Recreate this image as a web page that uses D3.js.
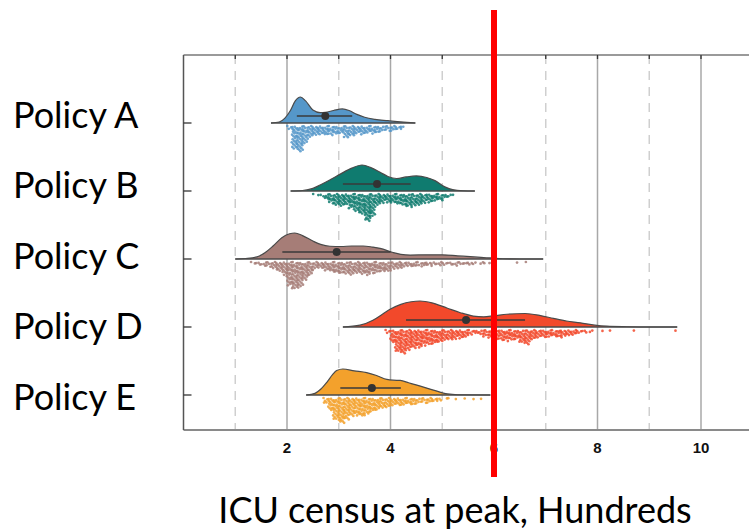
<!DOCTYPE html>
<html><head><meta charset="utf-8">
<script src="https://cdn.jsdelivr.net/npm/d3@7"></script>
<style>body{margin:0;background:#fff}</style>
</head><body><svg id="c" width="749" height="532"></svg>
<script>
// ---------- data ----------
const policies = ["Policy A", "Policy B", "Policy C", "Policy D", "Policy E"];
const colors = ["#5597c9", "#0f7b6f", "#a67d77", "#f2492b", "#f3a12c"];

// density curves: [value (hundreds), relative density]
const densA = [[1.69,0],[1.85,0.04],[1.96,0.19],[2.06,0.46],[2.16,0.85],[2.26,1.0],[2.36,0.85],[2.5,0.5],[2.64,0.4],[2.74,0.41],[2.9,0.48],[3.07,0.54],[3.2,0.48],[3.35,0.33],[3.5,0.22],[3.7,0.14],[3.95,0.09],[4.2,0.04],[4.48,0]];
const densB = [[2.07,0],[2.3,0.02],[2.5,0.1],[2.64,0.23],[2.85,0.45],[3.03,0.65],[3.25,0.88],[3.45,1.0],[3.62,0.9],[3.8,0.72],[3.95,0.56],[4.12,0.48],[4.3,0.54],[4.5,0.58],[4.7,0.52],[4.86,0.4],[5.05,0.16],[5.2,0.05],[5.4,0.01],[5.63,0]];
const densC = [[1.0,0],[1.2,0.02],[1.42,0.08],[1.58,0.25],[1.73,0.5],[1.9,0.82],[2.05,0.97],[2.15,1.0],[2.3,0.9],[2.5,0.69],[2.65,0.56],[2.83,0.49],[3.05,0.48],[3.25,0.5],[3.47,0.5],[3.65,0.46],[3.8,0.41],[4.05,0.25],[4.2,0.18],[4.38,0.15],[4.7,0.16],[5.0,0.16],[5.3,0.12],[5.54,0.09],[5.75,0.06],[5.93,0.04],[6.17,0.01],[6.5,0],[6.95,0]];
const densD = [[3.08,0],[3.41,0.07],[3.66,0.26],[3.85,0.5],[4.0,0.69],[4.2,0.87],[4.4,0.97],[4.57,1.0],[4.8,0.93],[5.09,0.73],[5.35,0.55],[5.6,0.42],[5.8,0.39],[6.0,0.43],[6.25,0.49],[6.6,0.52],[6.9,0.44],[7.15,0.33],[7.4,0.23],[7.67,0.16],[7.95,0.07],[8.18,0.03],[8.57,0.01],[9.0,0],[9.54,0]];
const densE = [[2.37,0],[2.54,0.06],[2.65,0.22],[2.77,0.49],[2.88,0.78],[2.96,0.94],[3.08,1.0],[3.3,0.93],[3.54,0.86],[3.73,0.75],[3.93,0.6],[4.05,0.57],[4.19,0.56],[4.35,0.47],[4.51,0.38],[4.83,0.19],[5.1,0.04],[5.3,0.01],[5.93,0]];

// simulation runs: counts per 0.1-wide bin, starting at dotStart
const dotStart = [2.0, 2.5, 1.3, 3.9, 2.7];
const dotCountsA = [4,26,28,20,12,10,9,10,10,9,8,13,11,9,9,8,8,7,6,5,5,4,2];
const dotCountsB = [1,2,6,10,12,13,12,16,20,22,30,25,12,10,10,9,11,13,14,13,12,10,9,8,7,5,3];
const dotCountsC = [2,3,4,5,8,10,14,26,30,28,20,14,8,7,9,11,12,12,13,14,12,13,14,12,12,11,10,8,7,6,5,5,4,5,4,3,4,3,3,4,3,2,3,2,2,1,2,0,0,0,0,1,0,1];
const dotCountsD = [3,14,24,26,22,20,19,17,16,15,13,12,11,10,9,8,5,4,5,7,9,10,11,12,11,10,14,16,10,9,8,8,7,8,7,6,5,4,3,2,0,0,1,1,0,0,0,1,0,0,0,0,0,0,0,1];
const dotCountsE = [6,14,24,28,24,20,19,20,18,15,13,11,10,9,8,8,7,7,6,5,5,4,3,1,1,1,0,1,0,1,1];

// point estimate and interval
const pointEst   = [2.74, 3.74, 2.96, 5.46, 3.64];
const intervalLo = [2.19, 3.08, 1.91, 4.30, 3.03];
const intervalHi = [3.26, 4.39, 4.00, 6.60, 4.20];

const majorTicks = [2, 4, 6, 8, 10];
const minorTicks = [1, 3, 5, 7, 9];
const threshold = 6;
const xTitle = "ICU census at peak, Hundreds";

// ---------- drawing ----------
const dens = [densA, densB, densC, densD, densE];
const counts = [dotCountsA, dotCountsB, dotCountsC, dotCountsD, dotCountsE];

const svg = d3.select("#c");
const plotTop = 55, plotBottom = 430, plotLeft = 183.5;
const x = d3.scaleLinear().domain([0, 11]).range([plotLeft, plotLeft + 51.75 * 11]);
const y = d3.scalePoint().domain(policies).range([123, 395]);
const yLab = d3.scalePoint().domain(policies).range([115, 397]);
const h = d3.scaleLinear().domain([0, 1]).range([0, 26]);

// gridlines
svg.append("g").selectAll("line").data(minorTicks).join("line")
  .attr("x1", d => x(d)).attr("x2", d => x(d)).attr("y1", plotTop).attr("y2", plotBottom)
  .attr("stroke", "#cfcfcf").attr("stroke-width", 1.5).attr("stroke-dasharray", "9,7");
svg.append("g").selectAll("line").data(majorTicks).join("line")
  .attr("x1", d => x(d)).attr("x2", d => x(d)).attr("y1", plotTop).attr("y2", plotBottom)
  .attr("stroke", "#a8a8a8").attr("stroke-width", 1.5);

// frame
svg.append("line").attr("x1", plotLeft).attr("x2", 749).attr("y1", plotTop).attr("y2", plotTop)
  .attr("stroke", "#9a9a9a").attr("stroke-width", 2);
svg.append("line").attr("x1", plotLeft).attr("x2", 749).attr("y1", plotBottom).attr("y2", plotBottom)
  .attr("stroke", "#8a8a8a").attr("stroke-width", 2);
svg.append("line").attr("x1", plotLeft).attr("x2", plotLeft).attr("y1", plotTop).attr("y2", plotBottom)
  .attr("stroke", "#555").attr("stroke-width", 1.5);
// top ticks
svg.append("g").selectAll("line").data(d3.range(1, 11)).join("line")
  .attr("x1", d => x(d)).attr("x2", d => x(d)).attr("y1", plotTop).attr("y2", plotTop + 4)
  .attr("stroke", "#333").attr("stroke-width", 1.3);
// left ticks
svg.append("g").selectAll("line").data(policies).join("line")
  .attr("x1", plotLeft).attr("x2", plotLeft + 8).attr("y1", d => y(d)).attr("y2", d => y(d))
  .attr("stroke", "#333").attr("stroke-width", 1.3);

// x tick labels
svg.append("g").selectAll("text").data(majorTicks).join("text")
  .attr("x", d => x(d)).attr("y", 452.5).attr("text-anchor", "middle")
  .attr("font-family", "Liberation Sans, Arial, sans-serif").attr("font-weight", "bold")
  .attr("font-size", 15).attr("fill", "#111").text(d => d);

const frac = v => v - Math.floor(v);
const area = d3.area().curve(d3.curveMonotoneX);

policies.forEach((p, k) => {
  const base = y(p);
  const g = svg.append("g");
  // rain dots
  const pts = [];
  counts[k].forEach((n, b) => {
    for (let i = 0; i < n; i++) {
      const xv = dotStart[k] + b * 0.1 + (frac(0.13 + i * 0.618034 + b * 0.379) * 1.2 - 0.1) * 0.1;
      const dy = 3 + (i + frac(b * 0.7548 + i * 0.4142) * 1.4) * 0.9;
      pts.push([xv, dy]);
    }
  });
  g.selectAll("circle.dot").data(pts).join("circle").attr("class", "dot")
    .attr("cx", d => x(d[0])).attr("cy", d => base + d[1]).attr("r", 1.35)
    .attr("fill", colors[k]).attr("opacity", 0.85);
  // density
  area.x(d => x(d[0])).y0(base).y1(d => base - h(d[1]));
  g.append("path").datum(dens[k]).attr("d", area)
    .attr("fill", colors[k]).attr("stroke", "none");
  const line = d3.line().curve(d3.curveMonotoneX).x(d => x(d[0])).y(d => base - h(d[1]));
  g.append("path").datum(dens[k]).attr("d", line)
    .attr("fill", "none").attr("stroke", "#4a4a4a").attr("stroke-width", 1.2);
  const ext = d3.extent(dens[k], d => d[0]);
  g.append("line").attr("x1", x(ext[0])).attr("x2", x(ext[1])).attr("y1", base).attr("y2", base)
    .attr("stroke", "#4a4a4a").attr("stroke-width", 1.5);
  // interval + point
  const iy = base - 7;
  g.append("line").attr("x1", x(intervalLo[k])).attr("x2", x(intervalHi[k])).attr("y1", iy).attr("y2", iy)
    .attr("stroke", "#3a3a3a").attr("stroke-width", 1.5);
  g.append("circle").attr("cx", x(pointEst[k])).attr("cy", iy).attr("r", 4).attr("fill", "#333");
});

// policy labels
svg.append("g").selectAll("text").data(policies).join("text")
  .attr("x", 13).attr("y", d => yLab(d)).attr("dy", "0.35em")
  .attr("font-family", "Lato, sans-serif").attr("font-size", 36).attr("fill", "#000").text(d => d);

// threshold line
svg.append("line").attr("x1", x(threshold)).attr("x2", x(threshold)).attr("y1", 10).attr("y2", 477)
  .attr("stroke", "#ff0000").attr("stroke-width", 6);

// x title
svg.append("text").attr("x", 455).attr("y", 523).attr("text-anchor", "middle")
  .attr("font-family", "Lato, sans-serif").attr("font-size", 36).attr("fill", "#000").text(xTitle);
</script>
</body></html>
